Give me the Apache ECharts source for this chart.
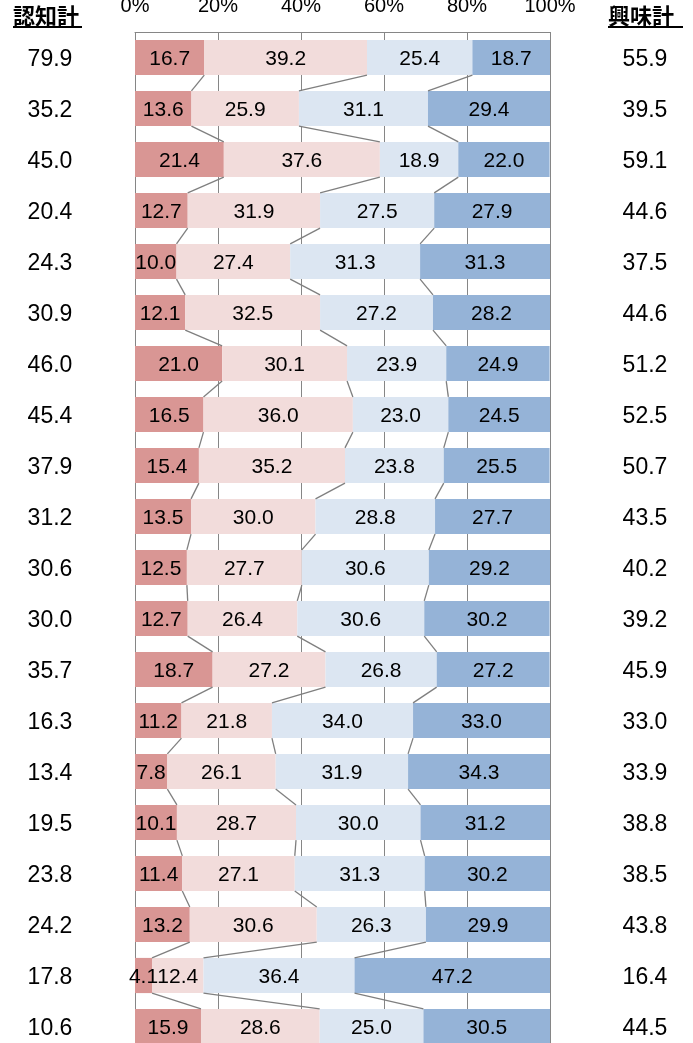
<!DOCTYPE html>
<html>
<head>
<meta charset="utf-8">
<script src="https://cdn.jsdelivr.net/npm/echarts@6/dist/echarts.min.js"></script>
<style>
  html, body { margin: 0; padding: 0; background: #fff; }
  #main { width: 693px; height: 1043px; }
</style>
</head>
<body>
<div id="main"></div>
<script>
// 行ごとのデータ（上から順）
var rows = ['1','2','3','4','5','6','7','8','9','10','11','12','13','14','15','16','17','18','19','20'];
var ninchi = [79.9, 35.2, 45.0, 20.4, 24.3, 30.9, 46.0, 45.4, 37.9, 31.2, 30.6, 30.0, 35.7, 16.3, 13.4, 19.5, 23.8, 24.2, 17.8, 10.6];
var kyomi = [55.9, 39.5, 59.1, 44.6, 37.5, 44.6, 51.2, 52.5, 50.7, 43.5, 40.2, 39.2, 45.9, 33.0, 33.9, 38.8, 38.5, 43.8, 16.4, 44.5];
var seg1 = [16.7, 13.6, 21.4, 12.7, 10.0, 12.1, 21.0, 16.5, 15.4, 13.5, 12.5, 12.7, 18.7, 11.2, 7.8, 10.1, 11.4, 13.2, 4.1, 15.9];
var seg2 = [39.2, 25.9, 37.6, 31.9, 27.4, 32.5, 30.1, 36.0, 35.2, 30.0, 27.7, 26.4, 27.2, 21.8, 26.1, 28.7, 27.1, 30.6, 12.4, 28.6];
var seg3 = [25.4, 31.1, 18.9, 27.5, 31.3, 27.2, 23.9, 23.0, 23.8, 28.8, 30.6, 30.6, 26.8, 34.0, 31.9, 30.0, 31.3, 26.3, 36.4, 25.0];
var seg4 = [18.7, 29.4, 22.0, 27.9, 31.3, 28.2, 24.9, 24.5, 25.5, 27.7, 29.2, 30.2, 27.2, 33.0, 34.3, 31.2, 30.2, 29.9, 47.2, 30.5];
var xTicks = [0, 20, 40, 60, 80, 100];

var colors = ['#D99694', '#F2DCDB', '#DCE6F2', '#95B3D7'];
var latin = '"Liberation Sans", Arial, sans-serif';
var cjk = '"Noto Sans CJK JP", sans-serif';
var barGap = '31%';

// 区切り位置を結ぶ線のデータ
var linkData = [];
for (var i = 0; i < rows.length - 1; i++) {
    var a1 = seg1[i], a2 = seg1[i] + seg2[i], a3 = a2 + seg3[i];
    var b1 = seg1[i + 1], b2 = seg1[i + 1] + seg2[i + 1], b3 = b2 + seg3[i + 1];
    linkData.push([a1, i, b1], [a2, i, b2], [a3, i, b3]);
}

function barSeries(name, data, color) {
    return {
        name: name,
        type: 'bar',
        stack: 'total',
        barCategoryGap: barGap,
        data: data,
        itemStyle: { color: color },
        label: {
            show: true,
            position: 'inside',
            offset: [0, 2],
            color: '#000',
            fontFamily: latin,
            fontSize: 21,
            formatter: function (p) { return p.value.toFixed(1); }
        },
        emphasis: { disabled: true }
    };
}

var myChart = echarts.init(document.getElementById('main'));

var option = {
    animation: false,
    grid: { left: 135, right: 143, top: 32, height: 1020, outerBoundsMode: 'none', containLabel: false },
    xAxis: {
        type: 'value',
        position: 'top',
        min: xTicks[0],
        max: xTicks[xTicks.length - 1],
        interval: 20,
        axisLine: { show: true, lineStyle: { color: '#868686', width: 1 } },
        axisTick: { show: false },
        splitLine: { show: true, lineStyle: { color: '#868686', width: 1 } },
        axisLabel: {
            margin: 16,
            color: '#000',
            fontFamily: latin,
            fontSize: 20,
            formatter: '{value}%'
        }
    },
    yAxis: [{
        type: 'category',
        data: rows,
        inverse: true,
        position: 'left',
        axisLine: { show: false },
        axisTick: { show: false },
        axisLabel: {
            margin: 85,
            align: 'center',
            verticalAlign: 'top',
            lineHeight: 4,
            color: '#000',
            fontFamily: latin,
            fontSize: 23,
            formatter: function (v, idx) { return ninchi[idx].toFixed(1); }
        }
    }, {
        type: 'category',
        data: rows,
        inverse: true,
        position: 'right',
        axisLine: { show: false },
        axisTick: { show: false },
        axisLabel: {
            margin: 95,
            align: 'center',
            verticalAlign: 'top',
            lineHeight: 4,
            color: '#000',
            fontFamily: latin,
            fontSize: 23,
            formatter: function (v, idx) { return kyomi[idx].toFixed(1); }
        }
    }],
    graphic: [
        { type: 'text', left: 13, top: 5, style: { text: '認知計', font: 'bold 22px ' + cjk, fill: '#000' } },
        { type: 'line', shape: { x1: 13, y1: 27, x2: 82, y2: 27 }, style: { stroke: '#000', lineWidth: 2 } },
        { type: 'text', left: 608, top: 5, style: { text: '興味計', font: 'bold 22px ' + cjk, fill: '#000' } },
        { type: 'line', shape: { x1: 608, y1: 27, x2: 683, y2: 27 }, style: { stroke: '#000', lineWidth: 2 } }
    ],
    series: [
        barSeries('s1', seg1, colors[0]),
        barSeries('s2', seg2, colors[1]),
        barSeries('s3', seg3, colors[2]),
        barSeries('s4', seg4, colors[3]),
        {
            type: 'custom',
            data: linkData,
            encode: { x: 0, y: 1 },
            z: 3,
            silent: true,
            renderItem: function (params, api) {
                var idx = api.value(1);
                var p1 = api.coord([api.value(0), idx]);
                var p2 = api.coord([api.value(2), idx + 1]);
                var band = api.size([0, 1])[1];
                var half = band * (1 - 0.31) / 2;
                return {
                    type: 'line',
                    shape: { x1: p1[0], y1: p1[1] + half, x2: p2[0], y2: p2[1] - half },
                    style: { stroke: '#7F7F7F', lineWidth: 1.3 }
                };
            }
        }
    ]
};

myChart.setOption(option);
</script>
</body>
</html>
